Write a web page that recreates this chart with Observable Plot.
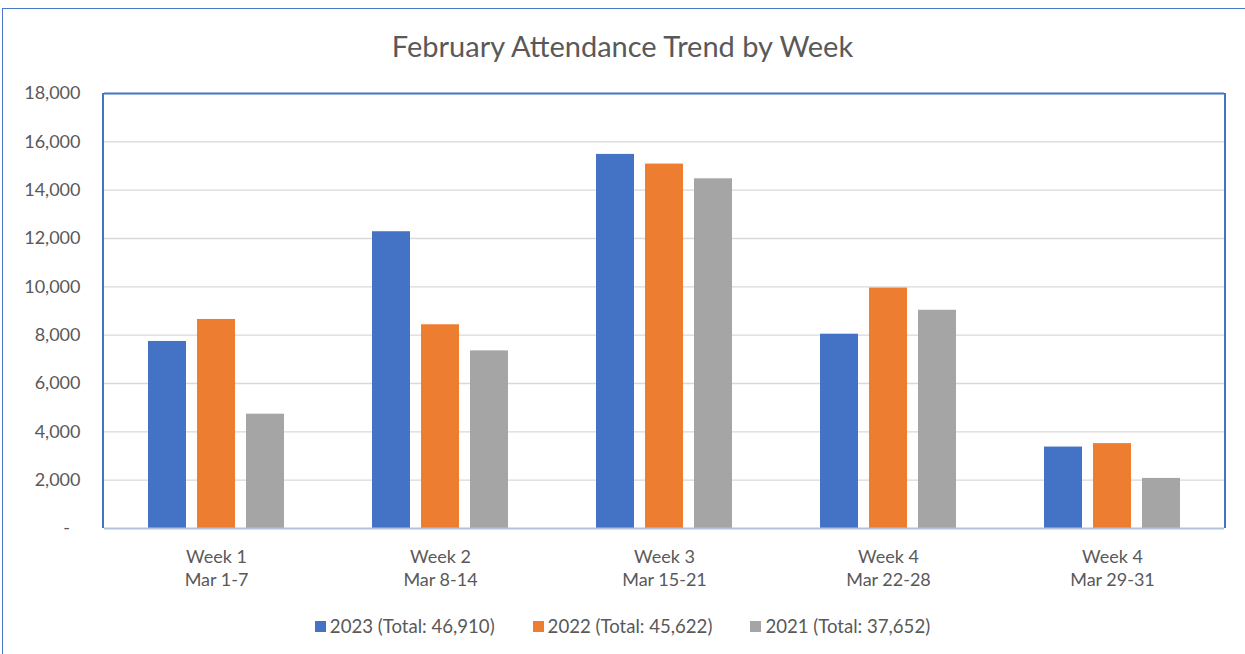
<!DOCTYPE html>
<html>
<head>
<meta charset="utf-8">
<script src="https://cdn.jsdelivr.net/npm/d3@7"></script>
<script src="https://cdn.jsdelivr.net/npm/@observablehq/plot@0.6"></script>
<style>
  html, body { margin: 0; padding: 0; background: #fff; }
  body { width: 1245px; height: 654px; position: relative; overflow: hidden; font-family: Lato, "Open Sans", sans-serif; }
  #border { position: absolute; left: 2px; top: 8px; width: 1260px; height: 700px; border-top: 1.5px solid #4a78c8; border-left: 1.5px solid #4a78c8; }
  #title { position: absolute; left: 0; top: 29px; width: 1245px; text-align: center; font-size: 29px; line-height: 34px; color: #595959; }
  #chart { position: absolute; left: 0; top: 80px; }
  #legend { position: absolute; left: 0; top: 613px; width: 1245px; height: 26px; display: flex; justify-content: center; align-items: center; font-size: 18.6px; color: #595959; }
  .item { display: flex; align-items: center; margin: 0 19px; }
  .sw { width: 11px; height: 11px; margin-right: 4px; }
</style>
</head>
<body>
<div id="border"></div>
<div id="title">February Attendance Trend by Week</div>
<div id="chart"></div>
<div id="legend"></div>
<script>
const weeks = ["Week 1\nMar 1-7", "Week 2\nMar 8-14", "Week 3\nMar 15-21", "Week 4\nMar 22-28", "Week 4\nMar 29-31"];
const years = ["2023", "2022", "2021"];
const v2023 = [7740, 12280, 15480, 8040, 3370];
const v2022 = [8650, 8430, 15080, 9950, 3512];
const v2021 = [4730, 7350, 14470, 9030, 2072];
const totals = ["46,910", "45,622", "37,652"];
const colors = ["#4472C4", "#ED7D31", "#A5A5A5"];
const yTicks = [0, 2000, 4000, 6000, 8000, 10000, 12000, 14000, 16000, 18000];

const series = [v2023, v2022, v2021];
const data = [];
weeks.forEach((w, i) => years.forEach((y, j) => data.push({week: w, year: y, value: series[j][i]})));

const plot = Plot.plot({
  width: 1245,
  height: 530,
  marginLeft: 103,
  marginRight: 20,
  marginTop: 13,
  marginBottom: 82,
  style: {color: "#595959", fontFamily: "Lato, 'Open Sans', sans-serif", background: "transparent"},
  fx: {domain: weeks, paddingInner: 0, paddingOuter: 0},
  x: {domain: years, paddingInner: 0.2215, paddingOuter: 0.87, axis: null},
  y: {domain: [0, 18000]},
  color: {domain: years, range: colors},
  marks: [
    Plot.ruleY(yTicks.filter(d => d > 0 && d < 18000), {stroke: "#d9d9d9", strokeWidth: 1.4}),
    Plot.barY(data, {fx: "week", x: "year", y: "value", fill: "year"}),
    Plot.ruleY([0], {stroke: "#b4c2dc", strokeWidth: 2}),
    Plot.ruleY([18000], {stroke: "#4472C4", strokeWidth: 2}),
    Plot.axisY({ticks: yTicks, tickSize: 0, tickPadding: 24, fontSize: 18, label: null,
      tickFormat: d => d === 0 ? "-\u2007" : d3.format(",")(d)}),
    Plot.axisFx({anchor: "bottom", tickSize: 0, tickPadding: 17, fontSize: 18, lineHeight: 1.33, label: null})
  ]
});

// plot-area side borders drawn from the plot's own scales
const fxs = plot.scale("fx");
const ys = plot.scale("y");
const x0 = fxs.range[0], x1 = fxs.range[1];
const yTop = ys.apply(18000), yBot = ys.apply(0);
const g = d3.select(plot).append("g").attr("stroke", "#4472C4").attr("stroke-width", 2);
g.append("line").attr("x1", x0).attr("x2", x0).attr("y1", yTop).attr("y2", yBot);
g.append("line").attr("x1", x1).attr("x2", x1).attr("y1", yTop).attr("y2", yBot);

document.getElementById("chart").appendChild(plot);

const legend = d3.select("#legend");
years.forEach((y, i) => {
  const it = legend.append("div").attr("class", "item");
  it.append("div").attr("class", "sw").style("background", colors[i]);
  it.append("span").text(`${y} (Total: ${totals[i]})`);
});
</script>
</body>
</html>
